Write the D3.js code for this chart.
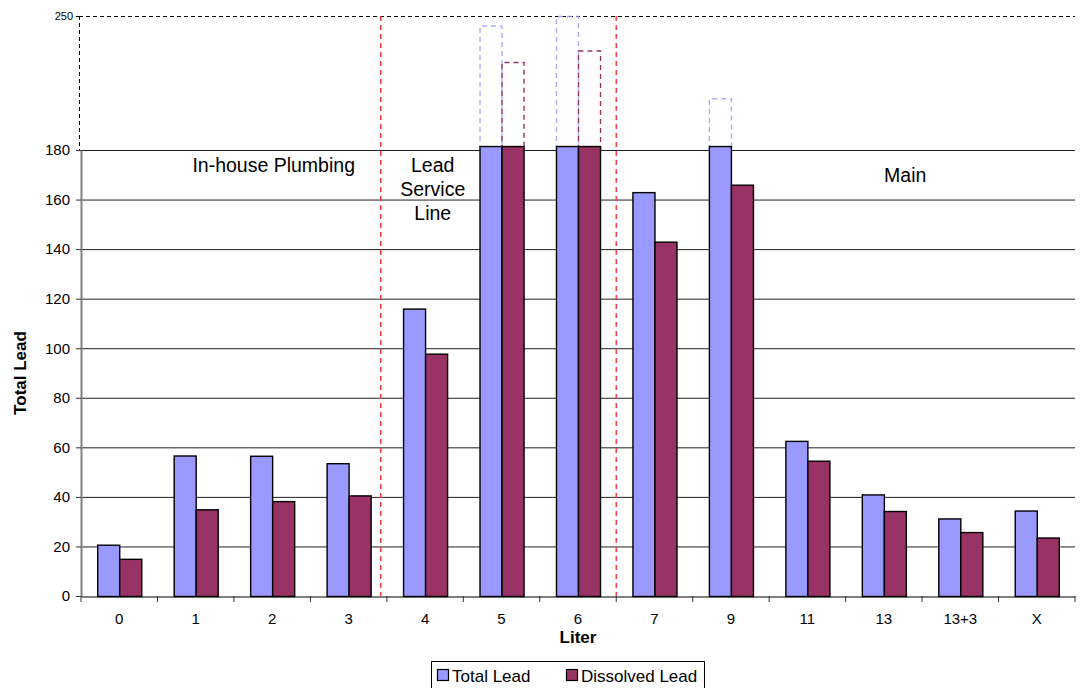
<!DOCTYPE html>
<html>
<head>
<meta charset="utf-8">
<script src="https://cdn.jsdelivr.net/npm/d3@7"></script>
<style>
  html, body { margin: 0; padding: 0; background: #fff; }
  svg { display: block; font-family: "Liberation Sans", Arial, sans-serif; }
</style>
</head>
<body>
<svg id="chart" width="1081" height="688"></svg>
<script>
// Lead concentration by sampled liter
const categories = ["0", "1", "2", "3", "4", "5", "6", "7", "9", "11", "13", "13+3", "X"];
const totalLead     = [20.7, 56.7, 56.6, 53.6, 116, 245, 250, 163, 207, 62.6, 41, 31.3, 34.5];
const dissolvedLead = [15, 35, 38.3, 40.6, 97.8, 226, 232, 143, 166, 54.6, 34.3, 25.8, 23.6];
const seriesNames   = ["Total Lead", "Dissolved Lead"];
const seriesColors  = ["#9999FF", "#993366"];
const lowerTicks    = [0, 20, 40, 60, 80, 100, 120, 140, 160, 180];
const upperTicks    = [250];
const regions       = [
  { label: ["In-house Plumbing"], at: 2.52, top: 166 },
  { label: ["Lead", "Service", "Line"], at: 4.6, top: 166 },
  { label: ["Main"], at: 10.78, top: 176 }
];
const dividers      = [3.92, 7.0];   // in category units
const breakValue    = 180;
const maxValue      = 250;

const svg = d3.select("#chart");
const left = 81, right = 1075, bottom = 596, breakY = 150, topY = 16;

const x = d3.scaleBand().domain(categories).range([left, right]).paddingInner(0.424).paddingOuter(0.212);
const xIdx = d3.scaleLinear().domain([0, categories.length]).range([left, right]);
const xs = d3.scaleBand().domain(seriesNames).range([0, x.bandwidth()]);
const yLow = d3.scaleLinear().domain([0, breakValue]).range([bottom, breakY]);
const yHigh = d3.scaleLinear().domain([breakValue, maxValue]).range([breakY, topY]);

// gridlines
svg.append("g").selectAll("line").data(lowerTicks.filter(d => d > 0)).join("line")
  .attr("x1", left).attr("x2", right)
  .attr("y1", d => yLow(d) + 0.5).attr("y2", d => yLow(d) + 0.5)
  .attr("stroke", "#222").attr("stroke-width", 1);

// broken upper region frame
svg.append("line").attr("x1", left - 2).attr("x2", right).attr("y1", yHigh(maxValue) + 0.5).attr("y2", yHigh(maxValue) + 0.5)
  .attr("stroke", "#000").attr("stroke-dasharray", "4,3");
svg.append("line").attr("x1", left - 2 + 0.5).attr("x2", left - 2 + 0.5).attr("y1", yHigh(maxValue)).attr("y2", breakY)
  .attr("stroke", "#000").attr("stroke-dasharray", "4,3");

// bars
const series = [totalLead, dissolvedLead];
const capValue = 181.6;
series.forEach((vals, si) => {
  const g = svg.append("g");
  const bx = i => x(categories[i]) + xs(seriesNames[si]);
  // dashed outline for values beyond the break
  g.selectAll("path.over").data(vals.map((d, i) => ({ d, i })).filter(o => o.d > breakValue)).join("path")
    .attr("class", "over")
    .attr("d", o => {
      const x0 = bx(o.i) + 0.5, x1 = x0 + xs.bandwidth();
      const yt = yHigh(Math.min(o.d, maxValue)) + 0.5;
      return `M${x0},${breakY}V${yt}H${x1}V${breakY}`;
    })
    .attr("fill", "none")
    .attr("stroke", seriesColors[si]).attr("stroke-opacity", si === 0 ? 0.8 : 1)
    .attr("stroke-dasharray", "5,4").attr("stroke-width", 1.4);
  g.selectAll("rect").data(vals).join("rect")
    .attr("x", (d, i) => bx(i) + 0.5)
    .attr("y", d => yLow(Math.min(d, capValue)) + 0.5)
    .attr("width", xs.bandwidth())
    .attr("height", d => yLow(0) - yLow(Math.min(d, capValue)))
    .attr("fill", seriesColors[si])
    .attr("stroke", "#000").attr("stroke-width", 1.4);
});

// region dividers
svg.append("g").selectAll("line").data(dividers).join("line")
  .attr("x1", d => xIdx(d)).attr("x2", d => xIdx(d))
  .attr("y1", topY).attr("y2", bottom)
  .attr("stroke", "#FF3333").attr("stroke-width", 1.4).attr("stroke-dasharray", "5,4");

// y axis (lower)
const yAxis = svg.append("g").attr("transform", `translate(${left},0)`)
  .call(d3.axisLeft(yLow).tickValues(lowerTicks).tickSize(5).tickSizeOuter(0).tickPadding(6));
yAxis.select(".domain").attr("stroke", "#808080").attr("stroke-width", 2);
yAxis.selectAll(".tick line").attr("stroke", "#333");
yAxis.selectAll("text").attr("font-size", 15).attr("fill", "#000")
  .attr("font-family", "'Liberation Sans', Arial, sans-serif");

// y axis (upper)
const yAxis2 = svg.append("g").attr("transform", `translate(${left - 2},0)`)
  .call(d3.axisLeft(yHigh).tickValues(upperTicks).tickSize(3).tickSizeOuter(0).tickPadding(3));
yAxis2.select(".domain").remove();
yAxis2.selectAll("text").attr("font-size", 11).attr("fill", "#000")
  .attr("font-family", "'Liberation Sans', Arial, sans-serif");

// x axis
const xAxis = svg.append("g").attr("transform", `translate(0,${bottom + 0.5})`)
  .call(d3.axisBottom(x).tickSize(0).tickPadding(17));
xAxis.select(".domain").attr("stroke", "#000").attr("stroke-width", 1.2);
xAxis.selectAll("text").attr("font-size", 15).attr("fill", "#000")
  .attr("font-family", "'Liberation Sans', Arial, sans-serif");
svg.append("g").selectAll("line").data(d3.range(categories.length + 1)).join("line")
  .attr("x1", d => xIdx(d)).attr("x2", d => xIdx(d))
  .attr("y1", bottom).attr("y2", bottom + 6)
  .attr("stroke", "#333");

// axis titles
svg.append("text").attr("x", xIdx(categories.length / 2)).attr("y", bottom + 47)
  .attr("text-anchor", "middle").attr("font-size", 17).attr("font-weight", "bold").text("Liter");
svg.append("text").attr("transform", `translate(26,${yLow(90)}) rotate(-90)`)
  .attr("text-anchor", "middle").attr("font-size", 17).attr("font-weight", "bold").text("Total Lead");

// region labels
regions.forEach(r => {
  const t = svg.append("text").attr("text-anchor", "middle").attr("font-size", 19.5);
  r.label.forEach((line, k) => {
    t.append("tspan").attr("x", xIdx(r.at)).attr("y", r.top + 6 + k * 24).text(line);
  });
});

// legend
const lg = svg.append("g").attr("transform", "translate(431,661)");
lg.append("rect").attr("x", 0.5).attr("y", 0.5).attr("width", 273).attr("height", 40)
  .attr("fill", "#fff").attr("stroke", "#000");
const legendX = [6, 135];
seriesNames.forEach((n, i) => {
  lg.append("rect").attr("x", legendX[i] + 0.5).attr("y", 8.5).attr("width", 11).attr("height", 11)
    .attr("fill", seriesColors[i]).attr("stroke", "#000").attr("stroke-width", 1.2);
  lg.append("text").attr("x", legendX[i] + 15).attr("y", 21).attr("font-size", 17).text(n);
});
</script>
</body>
</html>
